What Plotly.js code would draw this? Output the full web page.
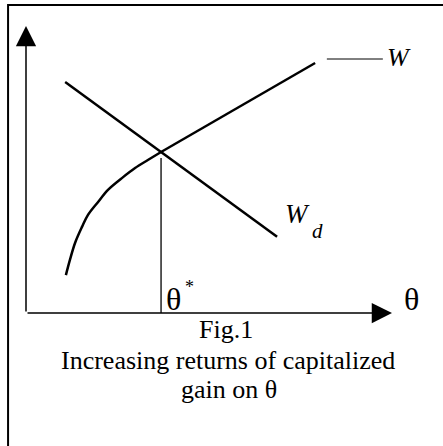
<!DOCTYPE html>
<html>
<head>
<meta charset="utf-8">
<script src="https://cdn.plot.ly/plotly-3.0.1.min.js"></script>
<style>
html,body{margin:0;padding:0;background:#fff;}
#chart{width:443px;height:446px;}
</style>
</head>
<body>
<div id="chart"></div>
<script>
// W curve (increasing returns), theta vs W
const wTheta = [1.09, 1.20, 1.34, 1.53, 1.69, 1.97, 2.24, 2.62, 2.98, 3.33, 3.69, 7.90];
const wValue = [1.32, 1.85, 2.44, 3.00, 3.41, 3.87, 4.29, 4.70, 5.05, 5.33, 5.61, 8.71];
// Wd line
const wdTheta = [1.07, 3.69, 6.86];
const wdValue = [8.05, 5.61, 2.66];
// theta* marker
const thetaStar = [3.69, 3.69];
const thetaStarValue = [0, 5.40];

const serif = 'Liberation Serif, Times New Roman, serif';
const black = '#000';
const kink = 10; // index where the curved part joins the straight part

const traces = [
  {x: wTheta.slice(0, kink + 1), y: wValue.slice(0, kink + 1), mode: 'lines',
   line: {color: black, width: 2.5, shape: 'spline', smoothing: 1}, hoverinfo: 'skip'},
  {x: wTheta.slice(kink), y: wValue.slice(kink), mode: 'lines',
   line: {color: black, width: 2.5}, hoverinfo: 'skip'},
  {x: wdTheta, y: wdValue, mode: 'lines', line: {color: black, width: 2.5}, hoverinfo: 'skip'},
  {x: thetaStar, y: thetaStarValue, mode: 'lines', line: {color: black, width: 1.3}, hoverinfo: 'skip'}
];

function txt(x, y, text, size, italic, ref, xanchor) {
  return {x: x, y: y, xref: ref || 'x', yref: ref ? 'paper' : 'y', text: text, showarrow: false,
    xanchor: xanchor || 'center', yanchor: 'middle', borderpad: 0,
    font: {family: serif, size: size, color: black, style: italic ? 'italic' : 'normal'}};
}

const annotations = [
  // y axis arrow
  {x: 0, y: 10, ax: 0, ay: 0, xref: 'x', yref: 'y', axref: 'x', ayref: 'y', text: '',
   showarrow: true, arrowhead: 2, arrowsize: 2.7, arrowwidth: 1.5, arrowcolor: black, standoff: 0, startstandoff: 0},
  // x axis arrow
  {x: 10, y: 0, ax: 0, ay: 0, xref: 'x', yref: 'y', axref: 'x', ayref: 'y', text: '',
   showarrow: true, arrowhead: 2, arrowsize: 2.7, arrowwidth: 1.5, arrowcolor: black, standoff: 0, startstandoff: 0},
  txt(4.02, 0.49, 'θ', 32, false),
  txt(4.48, 0.91, '*', 18, false),
  txt(1.052, 0.049, 'θ', 32, false, 'paper'),
  txt(1.019, 0.889, 'W', 26, true, 'paper'),
  txt(7.79, 3.45, 'W', 27, true, null, 'right'),
  txt(7.79, 2.86, 'd', 21, true, null, 'left'),
  txt(0.546, -0.059, 'Fig.1', 26, false, 'paper'),
  txt(0.552, -0.164, 'Increasing returns of capitalized', 26, false, 'paper'),
  txt(0.555, -0.268, 'gain on θ', 26, false, 'paper')
];

const shapes = [
  // frame
  {type: 'rect', xref: 'paper', yref: 'paper', x0: -0.049, x1: 2, y0: -1, y1: 1.073,
   line: {color: black, width: 2}, fillcolor: 'rgba(0,0,0,0)'},
  // legend key line for W
  {type: 'line', xref: 'x', yref: 'y', x0: 8.22, x1: 9.75, y0: 8.85, y1: 8.85,
   line: {color: black, width: 1}}
];

const layout = {
  width: 443, height: 446,
  margin: {l: 26, r: 51, t: 26, b: 133, pad: 0},
  paper_bgcolor: '#fff', plot_bgcolor: '#fff',
  showlegend: false,
  xaxis: {range: [0, 10], visible: false, fixedrange: true},
  yaxis: {range: [0, 10], visible: false, fixedrange: true},
  annotations: annotations,
  shapes: shapes
};

Plotly.newPlot('chart', traces, layout, {displayModeBar: false, staticPlot: true});
</script>
</body>
</html>
